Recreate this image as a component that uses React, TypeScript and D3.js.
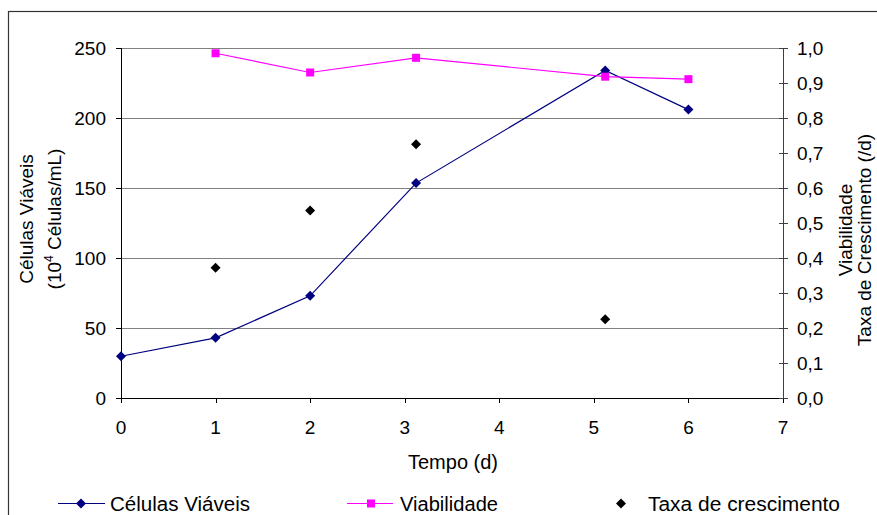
import React from "react";
import * as d3 from "d3";

const tempoCelulas = [0, 1, 2, 3.12, 5.12, 6];
const celulasViaveis = [29.8, 43, 73, 153.5, 234, 206];
const tempoViab = [1, 2, 3.12, 5.12, 6];
const viabilidade = [0.985, 0.93, 0.972, 0.918, 0.911];
const tempoTaxa = [1, 2, 3.12, 5.12];
const taxaCrescimento = [0.372, 0.536, 0.725, 0.225];
const xTicks = [0, 1, 2, 3, 4, 5, 6, 7];
const yLeftTicks = [0, 50, 100, 150, 200, 250];
const yRightTicks = [0, 0.1, 0.2, 0.3, 0.4, 0.5, 0.6, 0.7, 0.8, 0.9, 1.0];

const W = 877;
const H = 515;
const L = 121, R = 783, T = 48, B = 398;
const FONT = "'Liberation Sans', Arial, sans-serif";
const FS = 19;

const diamond = (cx: number, cy: number, r: number) =>
  `M${cx},${cy - r}L${cx + r},${cy}L${cx},${cy + r}L${cx - r},${cy}Z`;

export default function App() {
  const x = d3.scaleLinear().domain([0, 7]).range([L, R]);
  const yL = d3.scaleLinear().domain([0, 250]).range([B, T]);
  const yR = d3.scaleLinear().domain([0, 1]).range([B, T]);

  const celData = tempoCelulas.map((t, i) => [t, celulasViaveis[i]] as [number, number]);
  const viabData = tempoViab.map((t, i) => [t, viabilidade[i]] as [number, number]);
  const taxaData = tempoTaxa.map((t, i) => [t, taxaCrescimento[i]] as [number, number]);

  const lineL = d3.line<[number, number]>().x((d) => x(d[0])).y((d) => yL(d[1]));
  const lineR = d3.line<[number, number]>().x((d) => x(d[0])).y((d) => yR(d[1]));

  const fmtR = (v: number) => v.toFixed(1).replace(".", ",");

  return (
    <svg
      width={W}
      height={H}
      style={{ position: "absolute", left: 0, top: 0, background: "#fff" }}
      fontFamily={FONT}
    >
      <rect x={8.5} y={11.5} width={900} height={520} fill="none" stroke="#333" strokeWidth={1.2} />

      {/* gridlines */}
      {yLeftTicks.filter((v) => v > 0).map((v) => (
        <line key={"g" + v} x1={L} x2={R} y1={Math.round(yL(v)) + 0.5} y2={Math.round(yL(v)) + 0.5} stroke="#808080" strokeWidth={1} />
      ))}

      {/* left axis */}
      <line x1={L + 0.5} x2={L + 0.5} y1={T} y2={B + 5} stroke="#000" />
      {yLeftTicks.map((v) => (
        <g key={"yl" + v}>
          <line x1={L - 5} x2={L} y1={Math.round(yL(v)) + 0.5} y2={Math.round(yL(v)) + 0.5} stroke="#000" />
          <text x={106} y={yL(v)} dy="0.36em" textAnchor="end" fontSize={FS} fill="#000">{v}</text>
        </g>
      ))}

      {/* bottom axis */}
      <line x1={L} x2={R} y1={B + 0.5} y2={B + 0.5} stroke="#000" />
      {xTicks.map((v) => (
        <g key={"x" + v}>
          <line x1={Math.round(x(v)) + 0.5} x2={Math.round(x(v)) + 0.5} y1={B} y2={B + 5} stroke="#000" />
          <text x={x(v)} y={427} dy="0.36em" textAnchor="middle" fontSize={FS} fill="#000">{v}</text>
        </g>
      ))}

      {/* right axis */}
      <line x1={R + 0.5} x2={R + 0.5} y1={T} y2={B} stroke="#404040" />
      {yRightTicks.map((v) => (
        <g key={"yr" + v}>
          <line x1={R - 4} x2={R + 5} y1={Math.round(yR(v)) + 0.5} y2={Math.round(yR(v)) + 0.5} stroke="#404040" />
          <text x={797} y={yR(v)} dy="0.36em" textAnchor="start" fontSize={FS} fill="#000">{fmtR(v)}</text>
        </g>
      ))}

      {/* axis titles */}
      <text transform="translate(33,219) rotate(-90)" textAnchor="middle" fontSize={FS} fill="#000">Células Viáveis</text>
      <text transform="translate(61,219) rotate(-90)" textAnchor="middle" fontSize={FS} fill="#000">
        (10<tspan dy={-8} fontSize={12}>4</tspan><tspan dy={8}> Células/mL)</tspan>
      </text>
      <text transform="translate(852,230) rotate(-90)" textAnchor="middle" fontSize={FS} fill="#000">Viabilidade</text>
      <text transform="translate(871,240) rotate(-90)" textAnchor="middle" fontSize={FS} fill="#000">Taxa de Crescimento (/d)</text>
      <text x={453} y={462} dy="0.36em" textAnchor="middle" fontSize={20} fill="#000">Tempo (d)</text>

      {/* series */}
      <path d={lineL(celData) || ""} fill="none" stroke="#000080" strokeWidth={1.2} />
      {celData.map((d, i) => (
        <path key={"c" + i} d={diamond(x(d[0]), yL(d[1]), 5)} fill="#000080" />
      ))}
      <path d={lineR(viabData) || ""} fill="none" stroke="#FF00FF" strokeWidth={1.2} />
      {viabData.map((d, i) => (
        <rect key={"v" + i} x={x(d[0]) - 4} y={yR(d[1]) - 4} width={8} height={8} fill="#FF00FF" />
      ))}
      {taxaData.map((d, i) => (
        <path key={"t" + i} d={diamond(x(d[0]), yR(d[1]), 5)} fill="#000" />
      ))}

      {/* legend */}
      <g>
        <line x1={58} x2={105} y1={503.5} y2={503.5} stroke="#000080" strokeWidth={1.2} />
        <path d={diamond(81, 503.5, 5)} fill="#000080" />
        <text x={110} y={503.5} dy="0.36em" fontSize={20} textLength={140} lengthAdjust="spacingAndGlyphs" fill="#000">Células Viáveis</text>

        <line x1={347} x2={393} y1={503.5} y2={503.5} stroke="#FF00FF" strokeWidth={1.2} />
        <rect x={367} y={499.5} width={8} height={8} fill="#FF00FF" />
        <text x={400} y={503.5} dy="0.36em" fontSize={20} textLength={98} lengthAdjust="spacingAndGlyphs" fill="#000">Viabilidade</text>

        <path d={diamond(621, 503.5, 5)} fill="#000" />
        <text x={648} y={503.5} dy="0.36em" fontSize={20} textLength={192} lengthAdjust="spacingAndGlyphs" fill="#000">Taxa de crescimento</text>
      </g>
    </svg>
  );
}
